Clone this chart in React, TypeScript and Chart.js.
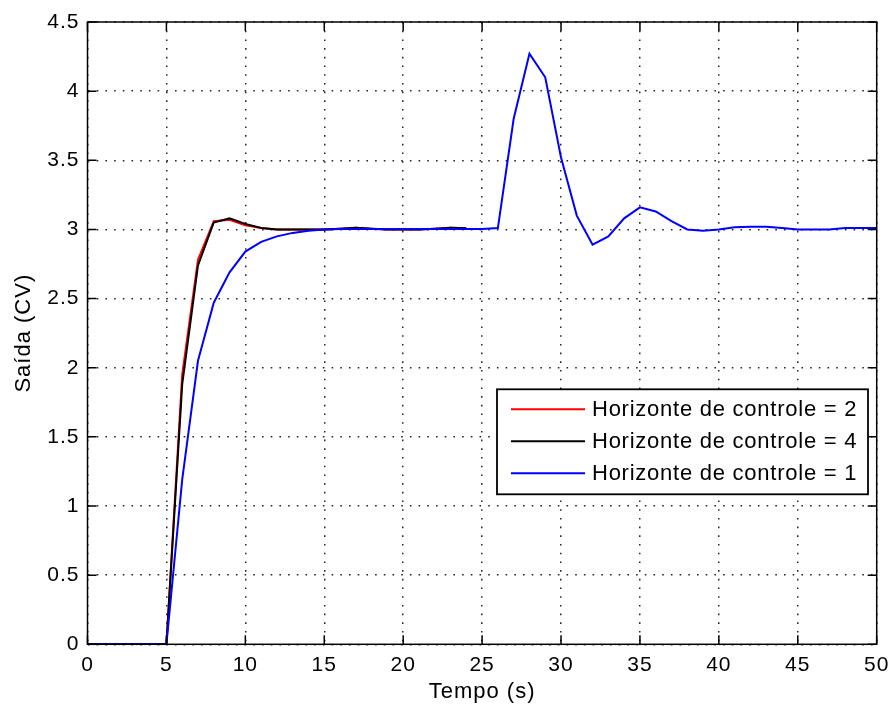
import React, { useEffect, useRef } from 'react';
import { Chart, registerables } from 'chart.js';

Chart.register(...registerables);

// ---- data ----
const tempoH = [0, 1, 2, 3, 4, 5, 6, 7, 8, 9, 10, 11, 12, 13, 14, 15, 16, 17, 18, 19, 20, 21, 22, 23, 24];
const saidaH2 = [0, 0, 0, 0, 0, 0, 1.95, 2.78, 3.06, 3.07, 3.03, 3.01, 3.0, 3.0, 3.0, 3.0, 3.005, 3.012, 3.005, 3.0, 3.0, 3.0, 3.005, 3.012, 3.008];
const saidaH4 = [0, 0, 0, 0, 0, 0, 1.88, 2.74, 3.05, 3.08, 3.04, 3.01, 3.0, 3.0, 3.0, 3.0, 3.005, 3.012, 3.005, 3.0, 3.0, 3.0, 3.005, 3.012, 3.008];

const tempoH1 = [0, 1, 2, 3, 4, 5, 6, 7, 8, 9, 10, 11, 12, 13, 14, 15, 16, 17, 18, 19, 20, 21, 22, 23, 24, 25, 26, 27, 28, 29, 30, 31, 32, 33, 34, 35, 36, 37, 38, 39, 40, 41, 42, 43, 44, 45, 46, 47, 48, 49, 50];
const saidaH1 = [0, 0, 0, 0, 0, 0, 1.19, 2.05, 2.47, 2.69, 2.84, 2.91, 2.95, 2.975, 2.99, 3.0, 3.003, 3.003, 3.003, 3.003, 3.003, 3.003, 3.003, 3.003, 3.003, 3.003, 3.01, 3.8, 4.27, 4.1, 3.52, 3.1, 2.89, 2.95, 3.08, 3.16, 3.13, 3.06, 3.0, 2.99, 3.0, 3.015, 3.02, 3.02, 3.01, 3.0, 3.0, 3.0, 3.01, 3.01, 3.01];

const xTicks = [0, 5, 10, 15, 20, 25, 30, 35, 40, 45, 50];
const yTicks = [0, 0.5, 1, 1.5, 2, 2.5, 3, 3.5, 4, 4.5];
const legendLabels = ['Horizonte de controle = 2', 'Horizonte de controle = 4', 'Horizonte de controle = 1'];
const seriesColors = ['#ff0000', '#000000', '#0000ff'];
const xTitle = 'Tempo (s)';
const yTitle = 'Saída (CV)';

const FONT = '"Liberation Sans", Arial, sans-serif';

const spacingPlugin = {
  id: 'letterSpacing',
  beforeLayout(chart: any) {
    chart.ctx.letterSpacing = '1px';
  },
  beforeDraw(chart: any) {
    chart.ctx.letterSpacing = '1px';
  },
};

const boxPlugin = {
  id: 'matlabBox',
  afterDatasetsDraw(chart: any) {
    const { ctx, chartArea: a, scales } = chart;
    ctx.save();
    ctx.setLineDash([]);
    ctx.strokeStyle = '#000';
    ctx.lineWidth = 1.5;
    ctx.strokeRect(a.left, a.top, a.right - a.left, a.bottom - a.top);
    const L = 9;
    ctx.beginPath();
    xTicks.forEach((v) => {
      const px = scales.x.getPixelForValue(v);
      ctx.moveTo(px, a.bottom);
      ctx.lineTo(px, a.bottom - L);
      ctx.moveTo(px, a.top);
      ctx.lineTo(px, a.top + L);
    });
    yTicks.forEach((v) => {
      const py = scales.y.getPixelForValue(v);
      ctx.moveTo(a.left, py);
      ctx.lineTo(a.left + L, py);
      ctx.moveTo(a.right, py);
      ctx.lineTo(a.right - L, py);
    });
    ctx.stroke();

    // legend
    const bw = 371;
    const bh = 105;
    const bx = a.right - 8.7 - bw;
    const by = a.bottom - 150 - bh;
    ctx.fillStyle = '#fff';
    ctx.fillRect(bx, by, bw, bh);
    ctx.lineWidth = 1.8;
    ctx.strokeStyle = '#000';
    ctx.strokeRect(bx, by, bw, bh);
    ctx.font = '22px ' + FONT;
    ctx.letterSpacing = '0.75px';
    ctx.textBaseline = 'middle';
    ctx.textAlign = 'left';
    legendLabels.forEach((lab, i) => {
      const cy = by + 20 + i * 32;
      ctx.strokeStyle = seriesColors[i];
      ctx.lineWidth = 2;
      ctx.beginPath();
      ctx.moveTo(bx + 14, cy);
      ctx.lineTo(bx + 88, cy);
      ctx.stroke();
      ctx.fillStyle = '#000';
      ctx.fillText(lab, bx + 95, cy + 1);
    });
    ctx.restore();
  },
};

export default function App() {
  const ref = useRef<HTMLCanvasElement>(null);
  useEffect(() => {
    if (!ref.current) return;
    const gridOpts = { color: 'rgba(0,0,0,0.85)', lineWidth: 1.5, drawTicks: false };
    const borderOpts = { display: false, dash: [1.6, 7.1] };
    const chart = new Chart(ref.current, {
      type: 'line',
      data: {
        datasets: [
          {
            label: legendLabels[0],
            data: tempoH.map((t, i) => ({ x: t, y: saidaH2[i] })),
            borderColor: seriesColors[0],
            borderWidth: 2,
            pointRadius: 0,
            tension: 0,
            order: 2,
          },
          {
            label: legendLabels[1],
            data: tempoH.map((t, i) => ({ x: t, y: saidaH4[i] })),
            borderColor: seriesColors[1],
            borderWidth: 2,
            pointRadius: 0,
            tension: 0,
            order: 1,
          },
          {
            label: legendLabels[2],
            data: tempoH1.map((t, i) => ({ x: t, y: saidaH1[i] })),
            borderColor: seriesColors[2],
            borderWidth: 2,
            pointRadius: 0,
            tension: 0,
            order: 0,
          },
        ],
      },
      options: {
        responsive: false,
        animation: false,
        devicePixelRatio: 1,
        layout: { padding: { left: 0, right: 13.3, top: 22, bottom: 0 } },
        plugins: { legend: { display: false }, tooltip: { enabled: false } },
        scales: {
          x: {
            type: 'linear',
            min: 0,
            max: 50,
            afterBuildTicks: (s: any) => {
              s.ticks = xTicks.map((v) => ({ value: v }));
            },
            afterFit: (s: any) => {
              s.height = 64.7;
              s.paddingLeft = 0;
              s.paddingRight = 0;
            },
            ticks: {
              font: { family: FONT, size: 21 },
              color: '#000',
              padding: 8,
              maxRotation: 0,
              autoSkip: false,
              callback: (v: any) => String(v),
            },
            grid: gridOpts,
            border: borderOpts,
            title: {
              display: true,
              text: xTitle,
              font: { family: FONT, size: 22 },
              color: '#000',
              padding: { top: 0, bottom: 4 },
            },
          },
          y: {
            type: 'linear',
            min: 0,
            max: 4.5,
            afterBuildTicks: (s: any) => {
              s.ticks = yTicks.map((v) => ({ value: v }));
            },
            afterFit: (s: any) => {
              s.width = 87.5;
              s.paddingTop = 0;
              s.paddingBottom = 0;
            },
            ticks: {
              font: { family: FONT, size: 21 },
              color: '#000',
              padding: 8,
              autoSkip: false,
              callback: (v: any) => String(v),
            },
            grid: gridOpts,
            border: borderOpts,
            title: {
              display: true,
              text: yTitle,
              font: { family: FONT, size: 22 },
              color: '#000',
              padding: { top: 11, bottom: 0 },
            },
          },
        },
      },
      plugins: [spacingPlugin, boxPlugin],
    } as any);
    return () => chart.destroy();
  }, []);
  return (
    <div style={{ position: 'fixed', left: 0, top: 0, width: 890, height: 709, background: '#fff' }}>
      <canvas ref={ref} width={890} height={709} style={{ width: 890, height: 709, display: 'block' }} />
    </div>
  );
}
